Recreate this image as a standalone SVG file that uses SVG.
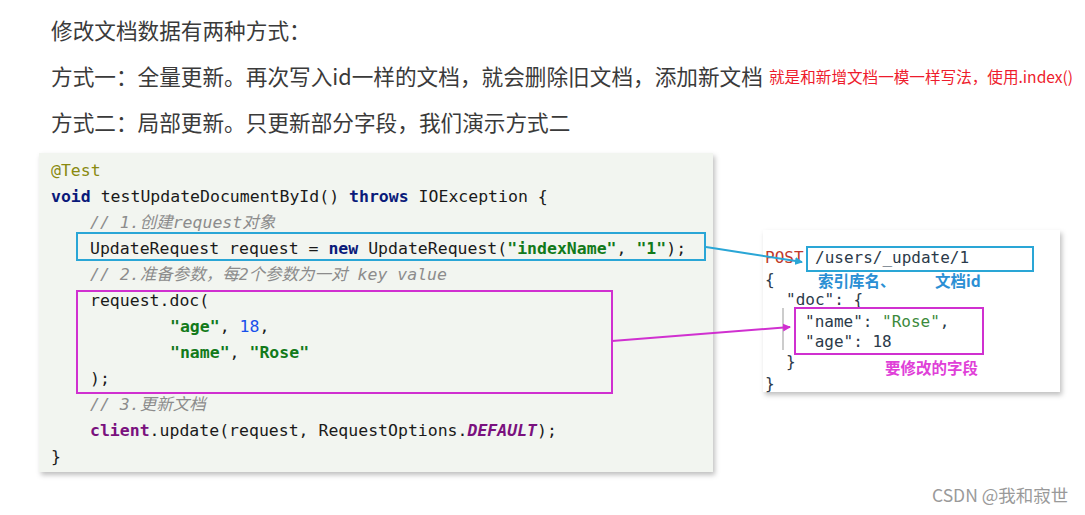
<svg xmlns="http://www.w3.org/2000/svg" width="1085" height="515" viewBox="0 0 1085 515">
<style>
.t{font-family:"Noto Sans CJK SC","Noto Sans",sans-serif;fill:#3a3a3a;font-size:21.65px}
.red{font-family:"Noto Sans CJK SC","Noto Sans",sans-serif;fill:#ee1b2c;font-size:15.6px}
.code{font-family:"DejaVu Sans Mono","Noto Sans CJK SC",monospace;font-size:16.5px;fill:#1a1a1a;white-space:pre}
.ann{fill:#8a8a10}
.kw{fill:#0a1a7a;font-weight:bold}
.str{fill:#127a1a;font-weight:bold}
.num{fill:#1750eb}
.cm{fill:#8c8c8c;font-style:italic}
.pur{fill:#7a117e;font-weight:bold}
.json{font-family:"DejaVu Sans Mono","Noto Sans CJK SC",monospace;font-size:16px;fill:#2b3a4a;white-space:pre}
.lbl{font-family:"Noto Sans CJK SC",sans-serif;font-weight:bold;font-size:15.5px}
.bluebox{fill:none;stroke:#2aa6d6;stroke-width:2}
.magbox{fill:none;stroke:#d030d0;stroke-width:2}
</style>
<defs>
<filter id="sh" x="-5%" y="-5%" width="110%" height="115%">
<feDropShadow dx="2" dy="3" stdDeviation="2.5" flood-color="#000" flood-opacity="0.25"/>
</filter>
<marker id="ab" markerWidth="8" markerHeight="8" refX="7" refY="4" orient="auto" markerUnits="userSpaceOnUse">
<path d="M0,0 L8,4 L0,8 Z" fill="#2aa6d6"/>
</marker>
<marker id="am" markerWidth="8" markerHeight="8" refX="7" refY="4" orient="auto" markerUnits="userSpaceOnUse">
<path d="M0,0 L8,4 L0,8 Z" fill="#d030d0"/>
</marker>
</defs>
<rect width="1085" height="515" fill="#ffffff"/>

<g id="heading">
<text class="t" x="51" y="39">修改文档数据有两种方式：</text>
<text class="t" x="51" y="85">方式一：全量更新。再次写入id一样的文档，就会删除旧文档，添加新文档</text>
<text class="red" x="769" y="83">就是和新增文档一模一样写法，使用.index()</text>
<text class="t" x="51" y="131">方式二：局部更新。只更新部分字段，我们演示方式二</text>
</g>

<g id="code-panel">
<rect x="39" y="153" width="674" height="319" fill="#f2f5f0" filter="url(#sh)"/>
<text class="code" x="51" y="176"><tspan class="ann">@Test</tspan></text>
<text class="code" x="51" y="202"><tspan class="kw">void</tspan> testUpdateDocumentById() <tspan class="kw">throws</tspan> IOException {</text>
<text class="code" x="90" y="228"><tspan class="cm">// 1.创建request对象</tspan></text>
<text class="code" x="90" y="254">UpdateRequest request = <tspan class="kw">new</tspan> UpdateRequest(<tspan class="str">"indexName"</tspan>, <tspan class="str">"1"</tspan>);</text>
<text class="code" x="90" y="280"><tspan class="cm">// 2.准备参数，每2个参数为一对 key value</tspan></text>
<text class="code" x="90" y="306">request.doc(</text>
<text class="code" x="170" y="332"><tspan class="str">"age"</tspan>, <tspan class="num">18</tspan>,</text>
<text class="code" x="170" y="358"><tspan class="str">"name"</tspan>, <tspan class="str">"Rose"</tspan></text>
<text class="code" x="90" y="384">);</text>
<text class="code" x="90" y="410"><tspan class="cm">// 3.更新文档</tspan></text>
<text class="code" x="90" y="436"><tspan class="pur">client</tspan>.update(request, RequestOptions.<tspan class="pur" font-style="italic">DEFAULT</tspan>);</text>
<text class="code" x="51" y="462">}</text>
</g>

<g id="highlight-request">
<rect class="bluebox" x="77" y="233" width="628" height="27"/>
</g>
<g id="highlight-doc">
<rect class="magbox" x="77" y="291" width="535" height="102"/>
</g>

<g id="dsl-panel">
<rect x="763" y="230" width="297" height="162" fill="#ffffff" filter="url(#sh)"/>
<text class="json" x="765" y="263" style="fill:#c0392b">POST</text>
<rect class="bluebox" x="807" y="247" width="226" height="24"/>
<text class="json" x="815" y="263">/users/_update/1</text>
<text class="json" x="765" y="285">{</text>
<text class="lbl" x="818" y="287" fill="#2a8fd4">索引库名、</text>
<text class="lbl" x="935" y="287" fill="#2a8fd4">文档id</text>
<text class="json" x="786" y="305">"doc": {</text>
<line x1="783" y1="308" x2="783" y2="350" stroke="#999999" stroke-width="1"/>
<rect class="magbox" x="795" y="308" width="188" height="46"/>
<text class="json" x="805" y="327">"name": <tspan style="fill:#3c8a3c">"Rose"</tspan>,</text>
<text class="json" x="805" y="347">"age": 18</text>
<text class="json" x="786" y="367">}</text>
<text class="lbl" x="885" y="374" fill="#e040d8">要修改的字段</text>
<text class="json" x="765" y="389">}</text>
</g>

<g id="connectors">
<line x1="706" y1="247" x2="802" y2="262" stroke="#2aa6d6" stroke-width="2" marker-end="url(#ab)"/>
<line x1="612" y1="341" x2="790" y2="327" stroke="#d030d0" stroke-width="2" marker-end="url(#am)"/>
</g>

<g id="watermark">
<text x="932" y="502" font-family="Noto Sans CJK SC,sans-serif" font-size="17.5" fill="#9a9a9a">CSDN @我和寂世</text>
</g>
</svg>
